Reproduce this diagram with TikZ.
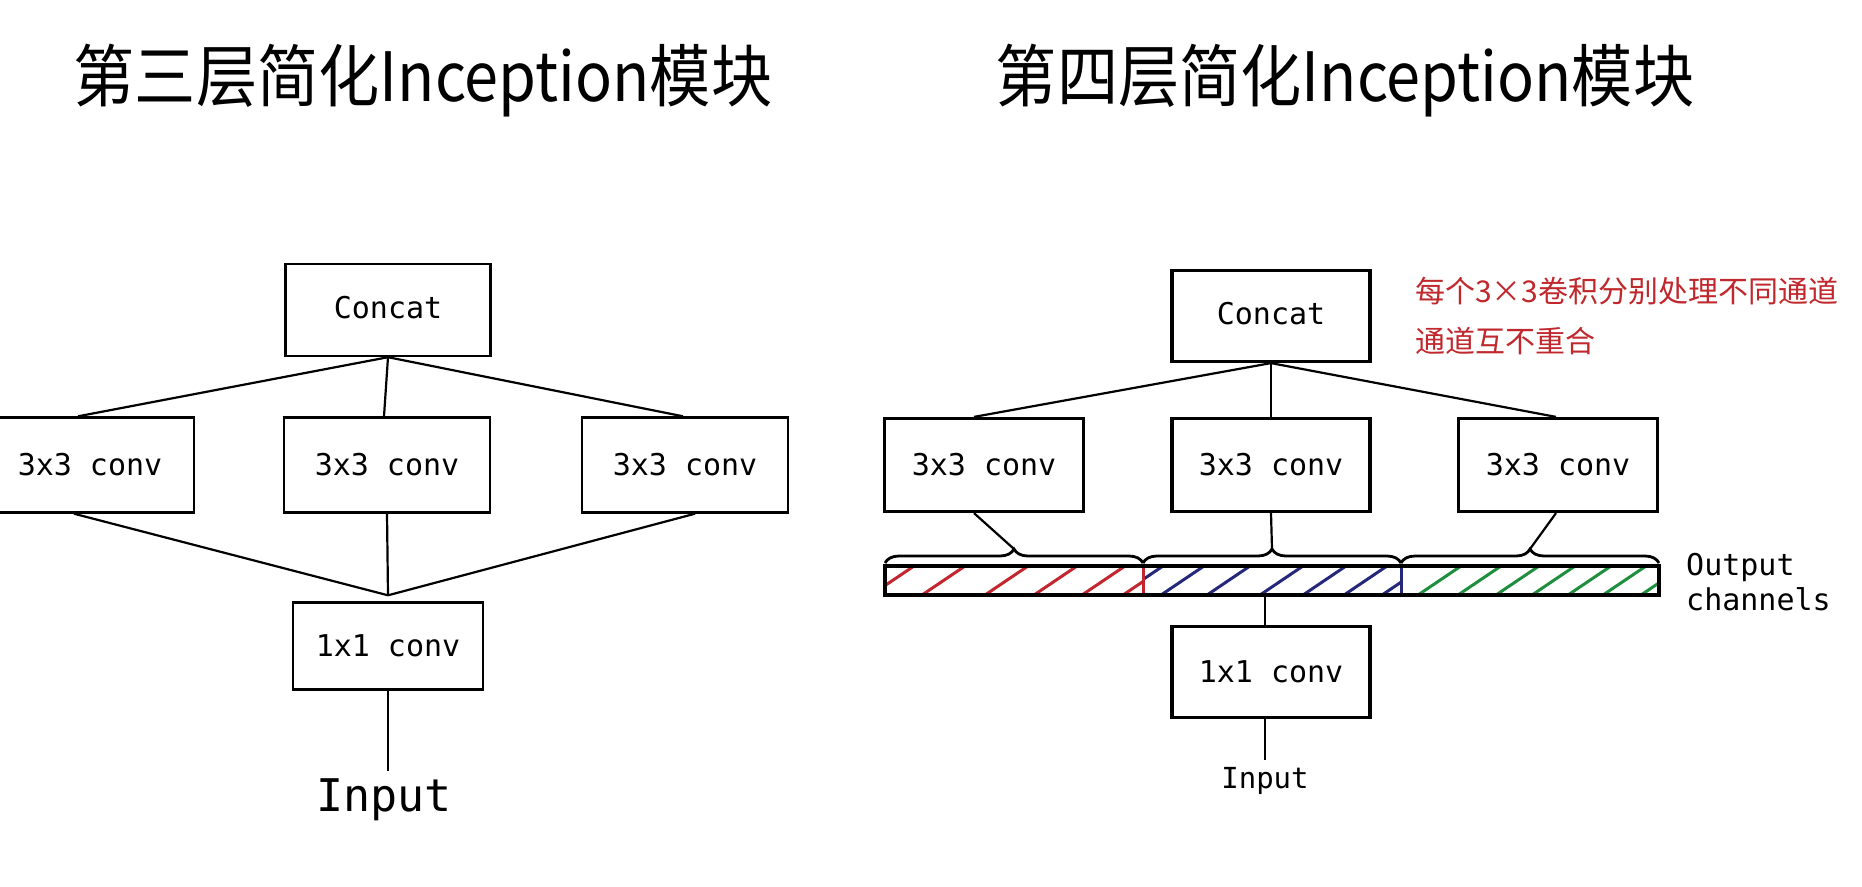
\documentclass[tikz,border=0pt]{standalone}
\usepackage{fontspec}
\newfontfamily\cjk{Noto Sans CJK SC}
\newfontfamily\monoA{DejaVu Sans Mono}
\usetikzlibrary{decorations.pathreplacing,calc}
\definecolor{hred}{HTML}{C3262E}
\definecolor{hblue}{HTML}{25287A}
\definecolor{hgreen}{HTML}{1E8F3E}
\definecolor{wred}{HTML}{C0282D}
\tikzset{
  titlenode/.style={font=\cjk\fontsize{68}{68}\selectfont, inner sep=0pt},
  boxL/.style={draw, line width=2.4pt, inner sep=0pt, font=\monoA\fontsize{30}{30}\selectfont},
  boxR/.style={draw, line width=3.2pt, inner sep=0pt, font=\monoA\fontsize{30}{30}\selectfont},
  conn/.style={line width=2.2pt},
  hatch/.style={line width=3pt},
  bracestyle/.style={line width=2.8pt, decorate, decoration={brace, amplitude=14pt}},
}
\begin{document}
\begin{tikzpicture}[x=1pt,y=-1pt]
\useasboundingbox (0,0) rectangle (1862,886);
\fill[white] (0,0) rectangle (1862,886);

% titles
\node[titlenode] (t1) at (423,81) {\scalebox{0.9}[1]{第三层简化Inception模块}};
\node[titlenode] (t2) at (1345,81) {\scalebox{0.9}[1]{第四层简化Inception模块}};

% ---------------- left diagram
\node[boxL, minimum width=205pt, minimum height=92pt] (concatL) at (388,310) {\raisebox{6pt}{Concat}};
\node[boxL, minimum width=208pt, minimum height=95pt] (c1L) at (90,465) {3x3 conv};
\node[boxL, minimum width=206pt, minimum height=95pt] (c2L) at (387,465) {3x3 conv};
\node[boxL, minimum width=206pt, minimum height=95pt] (c3L) at (685,465) {3x3 conv};
\node[boxL, minimum width=190pt, minimum height=87pt] (oneL) at (388,646) {1x1 conv};
\node[font=\monoA\fontsize{45}{45}\selectfont, inner sep=0pt] (inL) at (384,800) {Input};
\coordinate (joinL) at ($(oneL.north)+(0,-6)$);

\draw[conn] (concatL.south) -- ($(c1L.north)+(-12,0)$);
\draw[conn] (concatL.south) -- ($(c2L.north)+(-3,0)$);
\draw[conn] (concatL.south) -- ($(c3L.north)+(-2,0)$);
\draw[conn] ($(c1L.south)+(-16,0)$) -- (joinL);
\draw[conn] (c2L.south) -- (joinL);
\draw[conn] ($(c3L.south)+(10,0)$) -- (joinL);
\draw[conn] (oneL.south) -- ($(oneL.south |- inL.north)+(0,-8)$);

% ---------------- right diagram
\node[boxR, minimum width=198pt, minimum height=91pt] (concatR) at (1271,316) {\raisebox{6pt}{Concat}};
\node[boxR, minimum width=199pt, minimum height=93pt] (c1R) at (984,465) {3x3 conv};
\node[boxR, minimum width=198pt, minimum height=93pt] (c2R) at (1271,465) {3x3 conv};
\node[boxR, minimum width=199pt, minimum height=93pt] (c3R) at (1558,465) {3x3 conv};
\node[boxR, minimum width=198pt, minimum height=91pt] (oneR) at (1271,672) {1x1 conv};
\node[font=\monoA\fontsize{29}{29}\selectfont, inner sep=0pt] (inR) at (1265,781) {Input};

% hatching
\begin{scope}
  \clip (885,566) rectangle (1143,595);
  \foreach \x in {871,922,985,1034,1082,1123}
    \draw[hatch, hred] (\x,595) -- ++(43,-29);
\end{scope}
\begin{scope}
  \clip (1143,566) rectangle (1401,595);
  \foreach \x in {1120,1161,1207,1260,1303,1344,1382}
    \draw[hatch, hblue] (\x,595) -- ++(43,-29);
\end{scope}
\begin{scope}
  \clip (1401,566) rectangle (1659,595);
  \foreach \x in {1418,1458,1496,1532,1568,1603,1641}
    \draw[hatch, hgreen] (\x,595) -- ++(43,-29);
\end{scope}
\draw[hred, line width=3pt] (1143,566) -- (1143,595);
\draw[hblue, line width=3pt] (1401,566) -- (1401,595);
\node[draw, line width=3.2pt, minimum width=774pt, minimum height=29pt, inner sep=0pt] (bar) at (1272,580.5) {};

% braces
\draw[bracestyle] (885,563) -- (1143,563);
\draw[bracestyle] (1143,563) -- (1401,563);
\draw[bracestyle] (1401,563) -- (1659,563);
\coordinate (tip1) at (1014,549);
\coordinate (tip2) at (1272,549);
\coordinate (tip3) at (1530,549);

\draw[conn] (concatR.south) -- ($(c1R.north)+(-10,0)$);
\draw[conn] (concatR.south) -- (c2R.north);
\draw[conn] (concatR.south) -- ($(c3R.north)+(-2,0)$);
\draw[conn] ($(c1R.south)+(-10,0)$) -- (tip1);
\draw[conn] (c2R.south) -- (tip2);
\draw[conn] ($(c3R.south)+(-2,0)$) -- (tip3);
\draw[conn] ($(oneR.north |- bar.south)+(-6,0)$) -- ($(oneR.north)+(-6,0)$);
\draw[conn] ($(oneR.south)+(-6,0)$) -- ($(oneR.south |- inR.north)+(-6,-7)$);

\node[font=\monoA\fontsize{30}{35}\selectfont, align=left, anchor=west, inner sep=0pt] (oc) at (1686,582) {Output\\channels};

\node[font=\cjk\fontsize{30}{50}\selectfont, text=wred, align=left, anchor=west, inner sep=0pt] (note) at (1415,316) {每个3×3卷积分别处理不同通道\\通道互不重合};
\end{tikzpicture}
\end{document}
